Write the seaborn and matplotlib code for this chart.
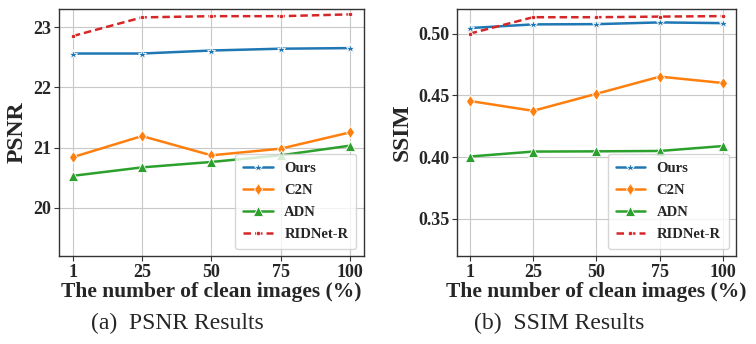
import matplotlib
matplotlib.use("Agg")
import matplotlib.pyplot as plt
import pandas as pd
import seaborn as sns

# Percentage of clean images used for training
clean_pct = ["1", "25", "50", "75", "100"]
methods = ["Ours", "C2N", "ADN", "RIDNet-R"]

psnr_ours = [22.56, 22.56, 22.61, 22.64, 22.65]
psnr_c2n = [20.84, 21.19, 20.87, 20.98, 21.25]
psnr_adn = [20.53, 20.67, 20.76, 20.87, 21.03]
psnr_ridnet = [22.85, 23.16, 23.18, 23.18, 23.21]

ssim_ours = [0.5045, 0.5075, 0.5077, 0.5091, 0.5085]
ssim_c2n = [0.4455, 0.4375, 0.4513, 0.4652, 0.4600]
ssim_adn = [0.4005, 0.4045, 0.4047, 0.4050, 0.4090]
ssim_ridnet = [0.5000, 0.5133, 0.5133, 0.5138, 0.5142]

palette = {"Ours": "#1f77b4", "C2N": "#ff7f0e", "ADN": "#2ca02c", "RIDNet-R": "#d62728"}
markers = {"Ours": "*", "C2N": "d", "ADN": "^", "RIDNet-R": "."}
dashes = {"Ours": "", "C2N": "", "ADN": "", "RIDNet-R": (3.0, 1.6)}


def long_table(series):
    rows = []
    for name, vals in zip(methods, series):
        for p, v in zip(clean_pct, vals):
            rows.append({"pct": p, "value": v, "method": name})
    return pd.DataFrame(rows)


psnr_df = long_table([psnr_ours, psnr_c2n, psnr_adn, psnr_ridnet])
ssim_df = long_table([ssim_ours, ssim_c2n, ssim_adn, ssim_ridnet])

sns.set_style("whitegrid")
plt.rcParams["font.family"] = ["Liberation Serif", "DejaVu Serif"]
plt.rcParams["font.weight"] = "bold"
plt.rcParams["axes.labelweight"] = "bold"

fig = plt.figure(figsize=(7.56, 3.44), dpi=100)
ax1 = fig.add_axes([0.078, 0.256, 0.403, 0.718])
ax2 = fig.add_axes([0.6045, 0.256, 0.369, 0.718])


def draw(ax, df, ylabel, ylim, yticks, ytick_fmt):
    sns.lineplot(data=df, x="pct", y="value", hue="method", style="method",
                 palette=palette, markers=markers, dashes=dashes,
                 hue_order=methods, style_order=methods,
                 linewidth=1.8, markersize=6.5, markeredgewidth=0.6,
                 sort=False, ax=ax)
    ax.set_ylim(*ylim)
    ax.set_yticks(yticks)
    ax.set_yticklabels([ytick_fmt.format(t) for t in yticks])
    ax.set_xlim(-0.2, 4.2)
    ax.set_xlabel("The number of clean images (%)", fontsize=15.5, fontweight="bold", labelpad=1)
    ax.set_ylabel(ylabel, fontsize=17, fontweight="bold", labelpad=4)
    ax.tick_params(axis="both", labelsize=13, length=3.5, width=0.8, color="#333333",
                   pad=2, bottom=True, left=True)
    for lbl in ax.get_xticklabels() + ax.get_yticklabels():
        lbl.set_fontweight("bold")
    ax.grid(True, color="#c8c8c8", linewidth=0.8)
    for sp in ax.spines.values():
        sp.set_color("#333333")
        sp.set_linewidth(1.0)
    leg = ax.legend(loc="lower right", frameon=True,
                    prop={"family": "Liberation Serif", "weight": "bold", "size": 10.5},
                    borderpad=0.55, labelspacing=0.6, handlelength=2.0)
    leg.get_frame().set_edgecolor("#cccccc")


draw(ax1, psnr_df, "PSNR", (19.2, 23.3), [20, 21, 22, 23], "{:d}")
draw(ax2, ssim_df, "SSIM", (0.32, 0.52), [0.35, 0.40, 0.45, 0.50], "{:.2f}")

fig.text(0.235, 0.061, "(a)  PSNR Results", ha="center", va="center",
         fontsize=17, fontweight="normal", family="Liberation Serif")
fig.text(0.74, 0.061, "(b)  SSIM Results", ha="center", va="center",
         fontsize=17, fontweight="normal", family="Liberation Serif")

fig.savefig("out.png", dpi=100)
